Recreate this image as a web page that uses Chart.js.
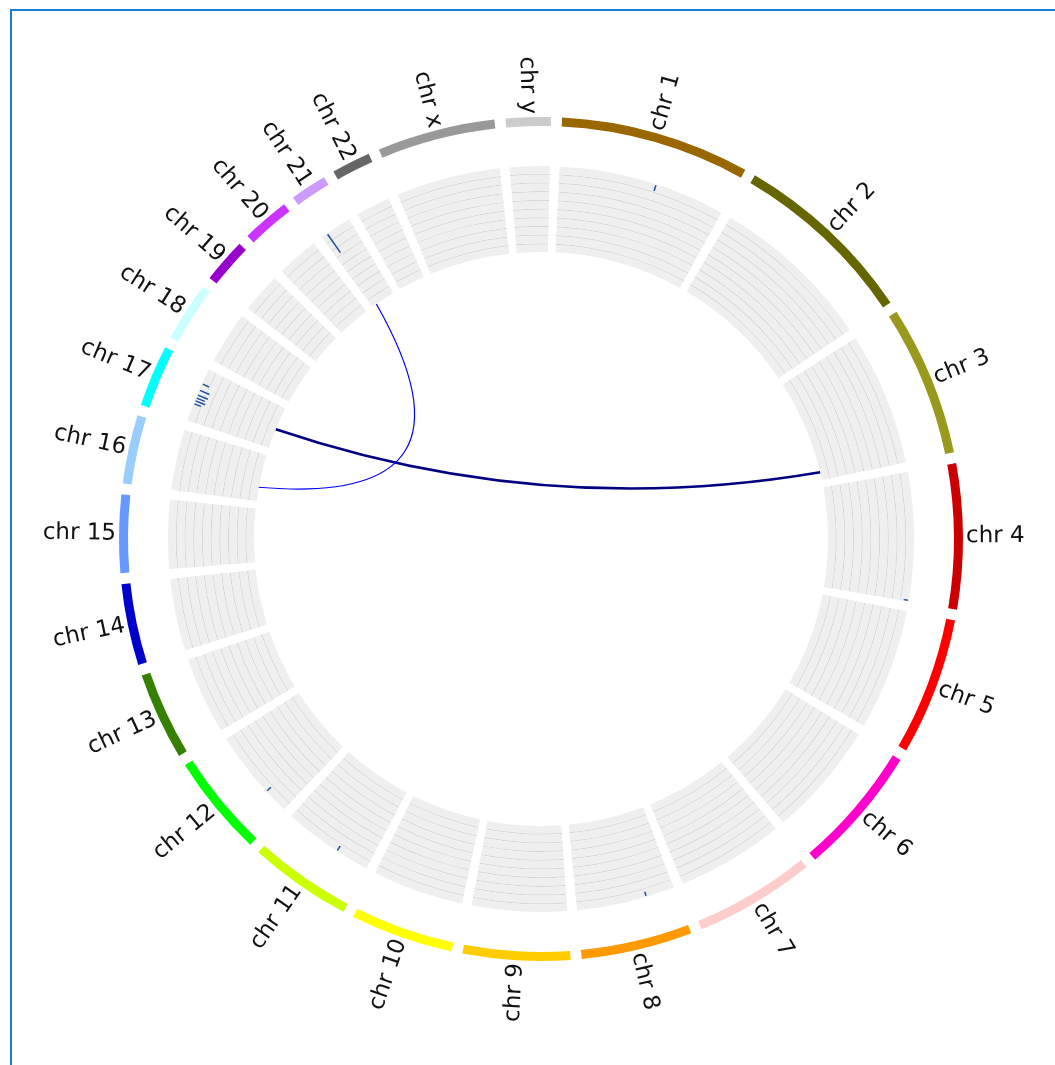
<!DOCTYPE html>
<html lang="en">
<head>
<meta charset="UTF-8" />
<title>Circos</title>
<style>
  body { margin: 0; background: #fff; overflow: hidden; }
  #frame { position: absolute; left: 10px; top: 9px; width: 1200px; height: 1200px; border: 2px solid #1d7bd3; }
  #wrap { position: absolute; left: 0; top: 0; width: 1055px; height: 1065px; }
</style>
</head>
<body>
<div id="frame"></div>
<div id="wrap"><canvas id="circos" width="1055" height="1065"></canvas></div>
<script src="https://cdn.jsdelivr.net/npm/chart.js"></script>
<script>
// chromosomes (hg19, Mb)
const chromosomes = ['chr 1', 'chr 2', 'chr 3', 'chr 4', 'chr 5', 'chr 6', 'chr 7', 'chr 8', 'chr 9', 'chr 10',
  'chr 11', 'chr 12', 'chr 13', 'chr 14', 'chr 15', 'chr 16', 'chr 17', 'chr 18', 'chr 19', 'chr 20',
  'chr 21', 'chr 22', 'chr x', 'chr y'];
const chromLengths = [249.25, 243.20, 198.02, 191.15, 180.92, 171.12, 159.14, 146.36, 141.21, 135.53,
  135.01, 133.85, 115.17, 107.35, 102.53, 90.35, 81.20, 78.08, 59.13, 63.03,
  48.13, 51.30, 155.27, 59.37];
const chromColors = ['#996600', '#666600', '#99991e', '#cc0000', '#ff0000', '#ff00cc', '#ffcccc', '#ff9900',
  '#ffcc00', '#ffff00', '#ccff00', '#00ff00', '#358000', '#0000cc', '#6699ff', '#99ccff', '#00ffff',
  '#ccffff', '#9900cc', '#cc33ff', '#cc99ff', '#666666', '#999999', '#cccccc'];

// histogram marks in the inner track (chromosome index, position Mb, value)
const markChrom = [0, 3, 7, 10, 11, 16, 16, 16, 16, 16, 16, 20];
const markPos = [144.5, 189.7, 42.6, 50.3, 36.7, 26.3, 31.0, 35.5, 40.3, 47.8, 57.8, 9.5];
const markValue = [0.7, 0.5, 0.5, 0.6, 0.6, 0.8, 1.2, 1.0, 1.25, 1.2, 0.8, 2.6];

// links
const linkFromChrom = [2, 20];
const linkFromPos = [183.0, 9.5];
const linkToChrom = [16, 15];
const linkToPos = [37.7, 26.8];
const linkColors = ['#000080', '#0000ff'];
const linkWidths = [2.5, 1.2];

const GAP = 14.33;        // Mb-equivalent gap between chromosomes
const ROTATION = 2.87;
const BANDS = 10;
const MARK_MAX = 10;
const LINK_PULL = 0.22;
const CLEAR = 'rgba(0,0,0,0)';

const ringData = [];
chromLengths.forEach(len => ringData.push(len, GAP));

function colorsFor(fill) {
  const out = [];
  chromColors.forEach(c => out.push(fill || c, CLEAR));
  return out;
}

const datasets = [
  { data: ringData, backgroundColor: colorsFor(null), weight: 9 },
  { data: ringData, backgroundColor: ringData.map(() => CLEAR), weight: 40 }
];
for (let b = 0; b < BANDS; b++) {
  datasets.push({ data: ringData, backgroundColor: colorsFor('#efefef'), weight: 7.7 });
  if (b < BANDS - 1) datasets.push({ data: ringData, backgroundColor: colorsFor('#d3d3d3'), weight: 1 });
}
datasets.forEach(d => { d.borderWidth = 0; d.hoverOffset = 0; d.offset = 0; });

const circosPlugin = {
  id: 'circosOverlay',
  afterDatasetsDraw(chart) {
    const ctx = chart.ctx;
    const ideo = chart.getDatasetMeta(0).data;
    const tOut = chart.getDatasetMeta(2).data[0].outerRadius;
    const tIn = chart.getDatasetMeta(chart.data.datasets.length - 1).data[0].innerRadius;
    const cx = ideo[0].x, cy = ideo[0].y;
    const rOut = ideo[0].outerRadius;
    const angleAt = (ci, pos) => {
      const a = ideo[ci * 2];
      return a.startAngle + (a.endAngle - a.startAngle) * pos / chromLengths[ci];
    };

    ctx.save();
    // histogram marks
    ctx.strokeStyle = '#1f4f9f';
    ctx.lineWidth = 1.5;
    const unit = (tOut - tIn) / MARK_MAX;
    markChrom.forEach((ci, i) => {
      const a = angleAt(ci, markPos[i]);
      const r0 = tOut - 1, r1 = tOut - 1 - markValue[i] * unit;
      ctx.beginPath();
      ctx.moveTo(cx + r0 * Math.cos(a), cy + r0 * Math.sin(a));
      ctx.lineTo(cx + r1 * Math.cos(a), cy + r1 * Math.sin(a));
      ctx.stroke();
    });

    // links
    linkFromChrom.forEach((ci, i) => {
      const a0 = angleAt(ci, linkFromPos[i]);
      const a1 = angleAt(linkToChrom[i], linkToPos[i]);
      const x0 = cx + tIn * Math.cos(a0), y0 = cy + tIn * Math.sin(a0);
      const x1 = cx + tIn * Math.cos(a1), y1 = cy + tIn * Math.sin(a1);
      const qx = cx + LINK_PULL * ((x0 + x1) / 2 - cx);
      const qy = cy + LINK_PULL * ((y0 + y1) / 2 - cy);
      ctx.strokeStyle = linkColors[i];
      ctx.lineWidth = linkWidths[i];
      ctx.beginPath();
      ctx.moveTo(x0, y0);
      ctx.quadraticCurveTo(qx, qy, x1, y1);
      ctx.stroke();
    });

    // labels
    ctx.font = '23px "DejaVu Sans", sans-serif';
    ctx.fillStyle = '#111';
    ctx.textBaseline = 'middle';
    const rLab = rOut + 3;
    chromosomes.forEach((name, ci) => {
      const a = ideo[ci * 2];
      const mid = (a.startAngle + a.endAngle) / 2;
      ctx.save();
      ctx.translate(cx, cy);
      if (Math.cos(mid) >= 0) {
        ctx.rotate(mid);
        ctx.textAlign = 'left';
        ctx.fillText(name, rLab, 0);
      } else {
        ctx.rotate(mid + Math.PI);
        ctx.textAlign = 'right';
        ctx.fillText(name, -rLab, 0);
      }
      ctx.restore();
    });
    ctx.restore();
  }
};

new Chart(document.getElementById('circos'), {
  type: 'doughnut',
  data: { labels: ringData.map((v, i) => i % 2 ? '' : chromosomes[i / 2]), datasets: datasets },
  options: {
    responsive: false,
    animation: false,
    devicePixelRatio: 1,
    events: [],
    rotation: ROTATION,
    cutout: (287 / 422 * 100) + '%',
    layout: { padding: { left: 119, top: 117, right: 92, bottom: 104 } },
    plugins: { legend: { display: false }, tooltip: { enabled: false } }
  },
  plugins: [circosPlugin]
});
</script>
</body>
</html>
